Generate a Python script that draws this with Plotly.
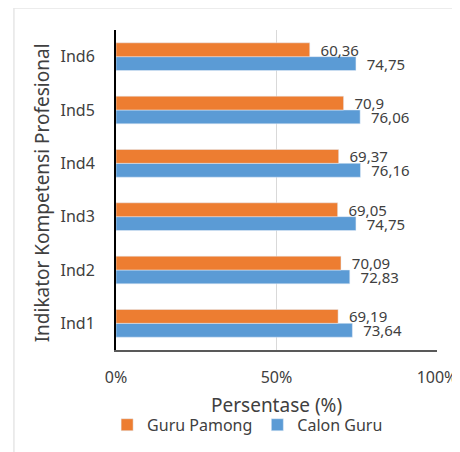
import plotly.graph_objects as go

indikator = ["Ind1", "Ind2", "Ind3", "Ind4", "Ind5", "Ind6"]
guru_pamong = [69.19, 70.09, 69.05, 69.37, 70.9, 60.36]
calon_guru = [73.64, 72.83, 74.75, 76.16, 76.06, 74.75]
x_ticks = [0, 50, 100]
x_tick_labels = ["0%", "50%", "100%"]


def fmt(v):
    # comma decimals, with a little gap before the label
    return "\u00a0\u00a0" + f"{v:g}".replace(".", ",")


FONT = "Noto Sans"
GREY = "#404040"

fig = go.Figure()
# blue first so it sits below the orange bar in each group
fig.add_trace(go.Bar(
    y=indikator, x=calon_guru, orientation="h", name="Calon Guru",
    marker=dict(color="#5B9BD5"), text=[fmt(v) for v in calon_guru],
    textposition="outside", cliponaxis=False, constraintext="none",
    textfont=dict(family=FONT, size=15, color=GREY),
))
fig.add_trace(go.Bar(
    y=indikator, x=guru_pamong, orientation="h", name="Guru Pamong",
    marker=dict(color="#ED7D31"), text=[fmt(v) for v in guru_pamong],
    textposition="outside", cliponaxis=False, constraintext="none",
    textfont=dict(family=FONT, size=15, color=GREY),
))

# page body has an 8px margin, so the figure is shrunk/offset by 8px
fig.update_layout(
    width=452, height=444,
    margin=dict(l=108, r=23, t=22, b=101),
    paper_bgcolor="white", plot_bgcolor="white",
    barmode="group", bargap=0.48, bargroupgap=0,
    font=dict(family=FONT, size=16, color=GREY),
    showlegend=True,
    legend=dict(orientation="h", traceorder="reversed",
                x=0.41, xanchor="center", y=-0.23, yanchor="middle",
                font=dict(size=16, color=GREY), itemwidth=30),
    xaxis=dict(range=[0, 100], tickvals=x_ticks, ticktext=x_tick_labels,
               showgrid=True, gridcolor="#D9D9D9", gridwidth=1,
               zeroline=False, showline=True, linecolor="#595959", linewidth=1.5,
               ticks="", automargin=False, ticklabelstandoff=12,
               tickfont=dict(size=16, color=GREY)),
    yaxis=dict(showgrid=False, zeroline=False, showline=True,
               linecolor="black", linewidth=2, ticks="", automargin=False,
               ticklabelstandoff=16,
               tickfont=dict(size=16, color=GREY)),
    shapes=[dict(type="rect", xref="paper", yref="paper",
                 x0=-0.318, x1=1.2, y0=-0.4, y1=1.0685,
                 line=dict(color="#E6E6E6", width=1.5), layer="below")],
    annotations=[
        dict(text="Persentase (%)", xref="paper", yref="paper", x=0.5, y=-0.172,
             xanchor="center", yanchor="middle",
             showarrow=False, font=dict(size=19, color=GREY)),
        dict(text="Indikator Kompetensi Profesional", xref="paper", yref="paper",
             x=-0.23, y=0.49, xanchor="center", yanchor="middle", textangle=-90,
             showarrow=False, font=dict(size=19, color=GREY)),
    ],
)

fig.write_html("out.html")
